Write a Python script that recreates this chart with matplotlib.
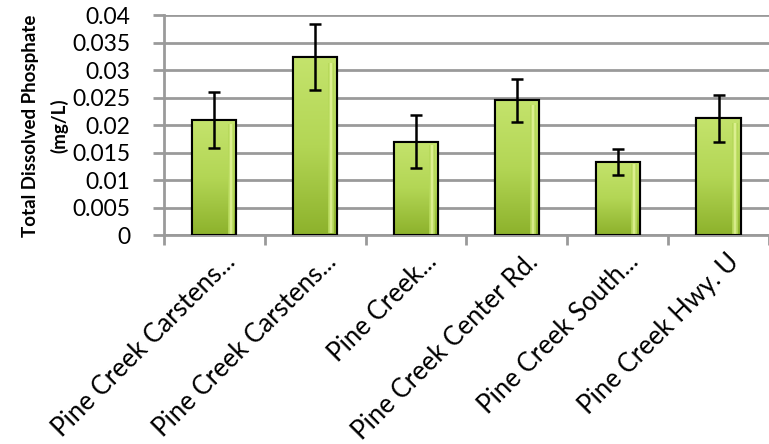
import numpy as np
import matplotlib
matplotlib.use("Agg")
import matplotlib.pyplot as plt
import matplotlib.transforms as mtransforms
from matplotlib.colors import LinearSegmentedColormap

sites = ["Pine Creek Carstens...", "Pine Creek Carstens...", "Pine Creek...",
         "Pine Creek Center Rd.", "Pine Creek South...", "Pine Creek Hwy. U"]
phosphate = [0.0209, 0.0324, 0.0170, 0.0245, 0.0133, 0.0212]
errors = [0.0051, 0.0060, 0.0048, 0.0039, 0.0024, 0.0043]
yticks = [0, 0.005, 0.01, 0.015, 0.02, 0.025, 0.03, 0.035, 0.04]
yticklabels = ["0", "0.005", "0.01", "0.015", "0.02", "0.025", "0.03", "0.035", "0.04"]

fig = plt.figure(figsize=(7.69, 4.44), dpi=100)
ax = fig.add_axes([0.213, 0.4707, 0.787, 0.4955])

x = np.arange(len(sites))
w = 0.44
bars = ax.bar(x, phosphate, width=w, color="#a9cc45", edgecolor="black",
              linewidth=1.5, zorder=3)

# gradient fill for each bar, light on top and darker at the bottom
grad = LinearSegmentedColormap.from_list("g", ["#8db22c", "#b3d655", "#c4e36c"])
col = np.linspace(0, 1, 100).reshape(-1, 1)
for b in bars:
    bx, bw, bh = b.get_x(), b.get_width(), b.get_height()
    im = ax.imshow(col, cmap=grad, aspect="auto", origin="lower",
                   extent=[bx, bx + bw, 0, bh], zorder=3.1)
    im.set_clip_path(b)
    # bright strip near the right edge
    hl = ax.imshow(np.array([[0.0, 1.0, 0.0]]), aspect="auto",
                   cmap=LinearSegmentedColormap.from_list("h", ["#b6d95a", "#eefaa8"]),
                   extent=[bx + bw * 0.8, bx + bw * 0.93, bh * 0.01, bh * 0.96],
                   zorder=3.2, interpolation="bilinear", alpha=0.9)
    hl.set_clip_path(b)
    ax.bar(bx + bw / 2, bh, width=bw, fill=False, edgecolor="black",
           linewidth=1.5, zorder=3.3)

ax.errorbar(x, phosphate, yerr=errors, fmt="none", ecolor="black",
            elinewidth=1.8, capsize=4.5, capthick=1.8, zorder=4)

ax.set_xlim(-0.5, len(sites) - 0.5)
ax.set_ylim(0, 0.04)
ax.set_yticks(yticks)
ax.set_yticklabels(yticklabels, family="Lato", fontsize=16.5)
ax.yaxis.grid(True, color="#9a9a9a", linewidth=2, zorder=0)
ax.set_axisbelow(True)

ax.set_xticks(np.arange(-0.5, len(sites), 1.0))
ax.set_xticklabels([])
ax.tick_params(axis="x", length=7, width=2, color="#9a9a9a")
ax.tick_params(axis="y", length=8, width=2, color="#9a9a9a", pad=16)

# category labels, rotated 45 degrees
off = mtransforms.ScaledTranslation(0.17, -0.23, fig.dpi_scale_trans)
trans = ax.get_xaxis_transform() + off
for xi, name in zip(x, sites):
    ax.text(xi, 0, name, transform=trans, rotation=45, ha="right", va="center",
            rotation_mode="anchor", family="Lato", fontsize=18.5)

for s in ["top", "right"]:
    ax.spines[s].set_visible(False)
for s in ["left", "bottom"]:
    ax.spines[s].set_color("#9a9a9a")
    ax.spines[s].set_linewidth(2)

ax.set_ylabel("Total Dissolved Phosphate\n(mg/L)", fontsize=13.5,
              fontweight="bold", family="Lato", linespacing=1.75)
ax.yaxis.set_label_coords(-0.158, 0.495)

fig.savefig("out.png", dpi=100)
